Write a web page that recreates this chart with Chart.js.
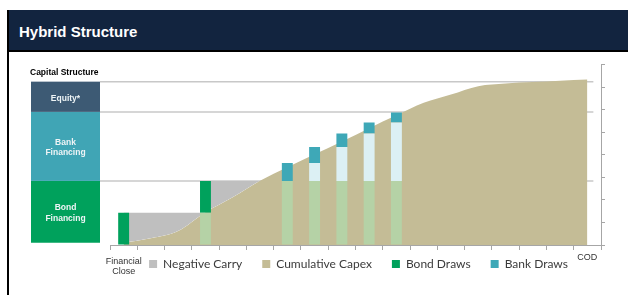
<!DOCTYPE html>
<html><head><meta charset="utf-8">
<script src="https://cdn.jsdelivr.net/npm/chart.js@4"></script>
<style>
html,body{margin:0;padding:0;background:#fff;width:628px;height:295px;overflow:hidden;}
#frame{position:absolute;left:7px;top:10px;width:621px;height:285px;border-left:2px solid #000;box-sizing:border-box;}
#hdr{position:absolute;left:0;top:0;right:0;height:40px;background:#12243f;border-bottom:2px solid #000;}
#hdr span{position:absolute;left:10px;top:13px;line-height:17px;font:bold 15px "Liberation Sans",Arial,sans-serif;color:#fff;white-space:nowrap;}
#wrap{position:absolute;left:0;top:52px;width:628px;height:243px;overflow:hidden;}
</style></head>
<body>
<div id="frame"><div id="hdr"><span>Hybrid Structure</span></div></div>
<div id="wrap"><canvas id="c" width="628" height="269"></canvas></div>
<script>
// ---- data ----
const tickLabels = [['Financial','Close'],'','','','','','','','','','','','','','','','','COD'];
const cumulativeCapex = [0.10,0.30,0.62,1.45,2.12,2.85,3.45,4.02,4.59,5.18,5.75,6.30,6.67,7.04,7.16,7.22,7.28,7.33];
const negativeCarry  = [1.43,1.43,1.43,2.84,2.84,2.84,null,null,null,null,null,null,null,null,null,null,null,null];
const bondDrawn      = [null,null,null,1.43,null,null,2.84,2.84,2.84,2.84,2.84,null,null,null,null,null,null,null];
const bondDraws      = [1.43,null,null,1.41,null,null,null,null,null,null,null,null,null,null,null,null,null,null];
const bankDrawn      = [null,null,null,null,null,null,null,0.79,1.50,2.10,2.59,null,null,null,null,null,null,null];
const bankDraws      = [null,null,null,null,null,null,0.79,0.71,0.60,0.49,0.44,null,null,null,null,null,null,null];
const structureLevels = [0.1, 2.84, 5.9, 7.24];
const structureLabels = [['Bond','Financing'],['Bank','Financing'],['Equity*']];
const legendNames = ['Negative Carry','Cumulative Capex','Bond Draws','Bank Draws'];

const C = {grey:'#bfbfbf', tan:'#c4bc96', green:'#00a15c', teal:'#3ea8b7', lgreen:'#b5d2a6', lblue:'#dcf0f4',
           eq:'#3d5a74', bank:'#40a5b5', bond:'#00a15c', axis:'#a6a6a6'};
const structureColors = [C.bond, C.bank, C.eq];

const capitalPlugin = {
  id:'capital',
  beforeDatasetsDraw(chart){
    const ctx = chart.ctx, y = chart.scales.y, x = chart.scales.x;
    ctx.save();
    const xr = x.getPixelForValue(17) + 6;
    ctx.strokeStyle = '#c8c8c8'; ctx.lineWidth = 1.5;
    structureLevels.slice(1).forEach(v => {
      const py = y.getPixelForValue(v);
      ctx.beginPath(); ctx.moveTo(100, py); ctx.lineTo(xr, py); ctx.stroke();
    });
    for (let i = 0; i < 3; i++) {
      const top = y.getPixelForValue(structureLevels[i+1]);
      const bot = y.getPixelForValue(structureLevels[i]);
      ctx.fillStyle = structureColors[i];
      ctx.fillRect(31, top, 69, bot - top);
      const lines = structureLabels[i];
      const cy = (top + bot) / 2 + 1.5;
      ctx.fillStyle = '#eef4f6';
      ctx.font = 'bold 8.5px "Liberation Sans", Arial, sans-serif';
      ctx.textAlign = 'center'; ctx.textBaseline = 'middle';
      lines.forEach((t, k) => ctx.fillText(t, 65.5, cy + (k - (lines.length - 1) / 2) * 10.5));
    }
    ctx.fillStyle = '#000';
    ctx.font = 'bold 8.5px "Liberation Sans", Arial, sans-serif';
    ctx.textAlign = 'left'; ctx.textBaseline = 'middle';
    ctx.fillText('Capital Structure', 30, 20.5);
    ctx.restore();
  }
};
const legendShift = {
  id:'legendShift',
  afterLayout(chart){
    const l = chart.legend; if (!l) return;
    const p = l.options.labels.padding;
    const target = 212 - p - 6;
    const dy = target - l.top;
    l.top += dy; l.bottom += dy;
  }
};

const bar = (label, data, color) => ({type:'bar', label, data, backgroundColor:color, borderWidth:0,
  barPercentage:0.4, categoryPercentage:1, order:0});

new Chart(document.getElementById('c'), {
  type:'bar',
  data:{
    labels: tickLabels,
    datasets:[
      {type:'line', label:'Negative Carry', data:negativeCarry, stepped:true, stack:'carry',
       fill:{target:1, above:C.grey, below:'rgba(0,0,0,0)'}, backgroundColor:C.grey,
       borderColor:'rgba(0,0,0,0)', borderWidth:0, pointRadius:0, order:2},
      {type:'line', label:'Cumulative Capex', data:cumulativeCapex, stack:'capex', fill:'origin',
       backgroundColor:C.tan, borderColor:'rgba(0,0,0,0)', borderWidth:0, pointRadius:0,
       cubicInterpolationMode:'monotone', order:3},
      bar('Bond Drawn', bondDrawn, C.lgreen),
      bar('Bond Draws', bondDraws, C.green),
      bar('Bank Drawn', bankDrawn, C.lblue),
      bar('Bank Draws', bankDraws, C.teal)
    ]
  },
  options:{
    responsive:false, animation:false, devicePixelRatio:1,
    layout:{padding:{left:110, right:21, top:12.5, bottom:0}},
    plugins:{
      tooltip:{enabled:false},
      legend:{position:'bottom', labels:{boxWidth:8, boxHeight:8, padding:20, color:'#3b3b3b',
        font:{family:'Lato', size:12},
        filter:(it) => legendNames.includes(it.text),
        sort:(a,b) => a.datasetIndex - b.datasetIndex}}
    },
    scales:{
      x:{stacked:true, offset:true,
         grid:{offset:true, drawOnChartArea:false, drawTicks:true, tickLength:5, color:C.axis},
         border:{color:C.axis},
         ticks:{autoSkip:false, maxRotation:0, padding:7, color:'#333',
           font:(c) => ({family:'"Liberation Sans", Arial', size:9, lineHeight: c.index === 17 ? '1px' : '10px'})},
         afterFit:(s) => { s.height = 34; }},
      y:{position:'right', stacked:true, min:0, max:8,
         ticks:{stepSize:1, display:false},
         grid:{drawOnChartArea:false, tickLength:4, color:C.axis},
         border:{color:C.axis},
         afterFit:(s) => { s.width = 6; }}
    }
  },
  plugins:[capitalPlugin, legendShift]
});
</script>
</body></html>
